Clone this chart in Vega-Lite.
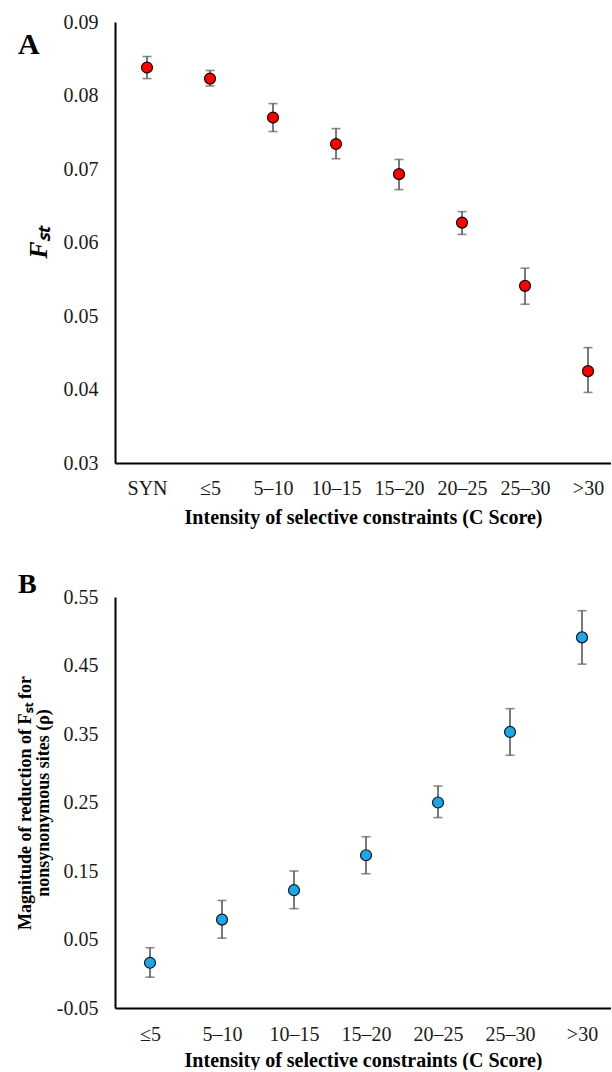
{
  "$schema": "https://vega.github.io/schema/vega-lite/v6.json",
  "padding": {"left": 16, "top": 12, "right": 0, "bottom": 0},
  "background": "white",
  "spacing": 44,
  "config": {
    "view": {"stroke": null},
    "font": "Liberation Serif",
    "axis": {
      "domainColor": "#000000",
      "domainWidth": 2,
      "ticks": false,
      "tickSize": 0,
      "grid": false,
      "labelFont": "Liberation Serif",
      "labelFontSize": 20,
      "labelColor": "#1a1a1a",
      "titleFont": "Liberation Serif",
      "titleFontSize": 20,
      "titleFontWeight": "bold",
      "titleColor": "#000000"
    }
  },
  "datasets": {
    "fst": [
      {"cat": "SYN", "v": 0.0838, "lo": 0.0823, "hi": 0.0853},
      {"cat": "≤5", "v": 0.0823, "lo": 0.0813, "hi": 0.0834},
      {"cat": "5–10", "v": 0.0770, "lo": 0.0751, "hi": 0.0789},
      {"cat": "10–15", "v": 0.0734, "lo": 0.0714, "hi": 0.0755},
      {"cat": "15–20", "v": 0.0693, "lo": 0.0672, "hi": 0.0713},
      {"cat": "20–25", "v": 0.0627, "lo": 0.0611, "hi": 0.0642},
      {"cat": "25–30", "v": 0.0541, "lo": 0.0516, "hi": 0.0565},
      {"cat": ">30", "v": 0.0425, "lo": 0.0396, "hi": 0.0457}
    ],
    "rho": [
      {"cat": "≤5", "v": 0.016, "lo": -0.005, "hi": 0.038},
      {"cat": "5–10", "v": 0.079, "lo": 0.052, "hi": 0.107},
      {"cat": "10–15", "v": 0.122, "lo": 0.095, "hi": 0.150},
      {"cat": "15–20", "v": 0.173, "lo": 0.146, "hi": 0.200},
      {"cat": "20–25", "v": 0.250, "lo": 0.228, "hi": 0.274},
      {"cat": "25–30", "v": 0.353, "lo": 0.319, "hi": 0.387},
      {"cat": ">30", "v": 0.491, "lo": 0.452, "hi": 0.530}
    ]
  },
  "vconcat": [
    {
      "width": 496,
      "height": 441,
      "title": {"text": "A", "anchor": "start", "frame": "group", "dx": -97, "dy": 52, "fontSize": 30, "fontWeight": "bold", "font": "Liberation Serif", "color": "#000000"},
      "data": {"name": "fst"},
      "encoding": {
        "x": {
          "field": "cat", "type": "nominal", "sort": null,
          "scale": {"type": "point", "padding": 0.4365, "align": 0.582},
          "axis": {"labelAngle": 0, "labelPadding": 15, "titlePadding": 9, "title": "Intensity  of selective constraints (C Score)"}
        }
      },
      "layer": [
        {
          "mark": {"type": "rule", "color": "#595959", "strokeWidth": 1.6},
          "encoding": {
            "y": {"field": "lo", "type": "quantitative", "scale": {"domain": [0.03, 0.09], "nice": false, "zero": false},
              "axis": {"values": [0.03, 0.04, 0.05, 0.06, 0.07, 0.08, 0.09], "labelExpr": "format(datum.value, '.2f')", "labelPadding": 17, "titlePadding": 12, "title": "Fₛₜ", "titleFontStyle": "italic", "titleFontSize": 26}},
            "y2": {"field": "hi"}
          }
        },
        {
          "mark": {"type": "tick", "color": "#595959", "thickness": 1.6, "size": 9},
          "encoding": {"y": {"field": "lo", "type": "quantitative"}}
        },
        {
          "mark": {"type": "tick", "color": "#595959", "thickness": 1.6, "size": 9},
          "encoding": {"y": {"field": "hi", "type": "quantitative"}}
        },
        {
          "mark": {"type": "point", "filled": true, "fill": "#ff0000", "stroke": "#1a0000", "strokeWidth": 1.2, "size": 120, "opacity": 1},
          "encoding": {"y": {"field": "v", "type": "quantitative"}}
        }
      ]
    },
    {
      "width": 496,
      "height": 411,
      "title": {"text": "B", "anchor": "start", "frame": "group", "dx": -97, "dy": 16, "fontSize": 28, "fontWeight": "bold", "font": "Liberation Serif", "color": "#000000"},
      "data": {"name": "rho"},
      "encoding": {
        "x": {
          "field": "cat", "type": "nominal", "sort": null,
          "scale": {"type": "point", "padding": 0.4444, "align": 0.547},
          "axis": {"labelAngle": 0, "labelPadding": 16, "titlePadding": 6, "title": "Intensity  of selective constraints (C Score)"}
        }
      },
      "layer": [
        {
          "mark": {"type": "rule", "color": "#595959", "strokeWidth": 1.6},
          "encoding": {
            "y": {"field": "lo", "type": "quantitative", "scale": {"domain": [-0.05, 0.55], "nice": false, "zero": false},
              "axis": {"values": [-0.05, 0.05, 0.15, 0.25, 0.35, 0.45, 0.55], "labelExpr": "replace(format(datum.value, '.2f'), '−', '-')", "labelPadding": 17, "titlePadding": 4, "title": ["Magnitude of reduction of Fₛₜ for", "nonsynonymous sites (ρ)"], "titleLineHeight": 18, "titleFontSize": 18}},
            "y2": {"field": "hi"}
          }
        },
        {
          "mark": {"type": "tick", "color": "#595959", "thickness": 1.6, "size": 9},
          "encoding": {"y": {"field": "lo", "type": "quantitative"}}
        },
        {
          "mark": {"type": "tick", "color": "#595959", "thickness": 1.6, "size": 9},
          "encoding": {"y": {"field": "hi", "type": "quantitative"}}
        },
        {
          "mark": {"type": "point", "filled": true, "fill": "#1ea7e4", "stroke": "#001a2a", "strokeWidth": 1.2, "size": 120, "opacity": 1},
          "encoding": {"y": {"field": "v", "type": "quantitative"}}
        }
      ]
    }
  ]
}
